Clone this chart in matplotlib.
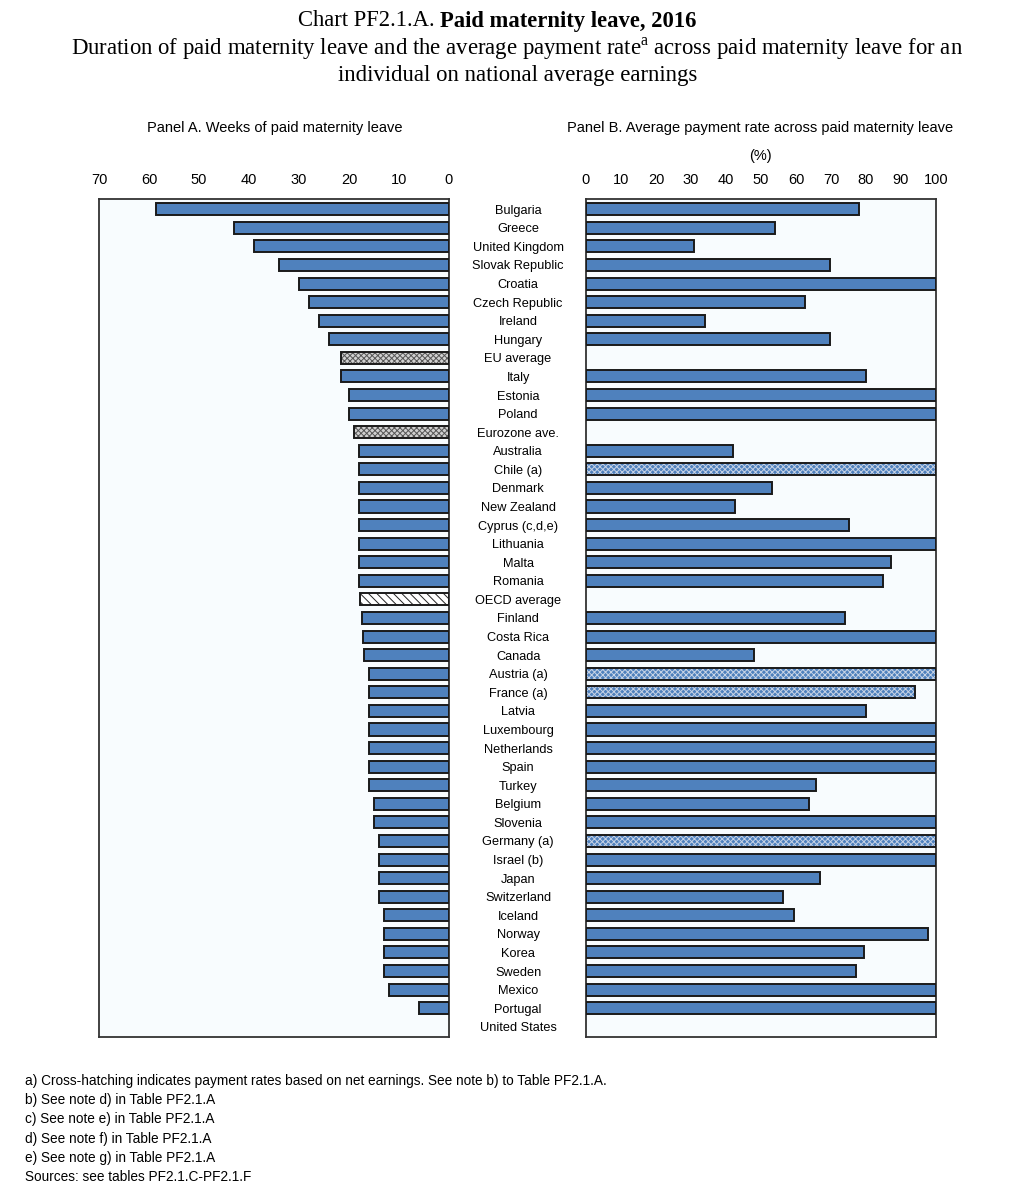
import numpy as np
import matplotlib
matplotlib.use("Agg")
from matplotlib import pyplot as plt

plt.rcParams['font.family'] = ['Liberation Sans', 'DejaVu Sans']
plt.rcParams['mathtext.fontset'] = 'custom'
plt.rcParams['mathtext.rm'] = 'Liberation Serif'
plt.rcParams['hatch.linewidth'] = 0.7

# data
countries = ["Bulgaria", "Greece", "United Kingdom", "Slovak Republic", "Croatia",
             "Czech Republic", "Ireland", "Hungary", "EU average", "Italy", "Estonia",
             "Poland", "Eurozone ave.", "Australia", "Chile (a)", "Denmark",
             "New Zealand", "Cyprus (c,d,e)", "Lithuania", "Malta", "Romania",
             "OECD average", "Finland", "Costa Rica", "Canada", "Austria (a)",
             "France (a)", "Latvia", "Luxembourg", "Netherlands", "Spain", "Turkey",
             "Belgium", "Slovenia", "Germany (a)", "Israel (b)", "Japan",
             "Switzerland", "Iceland", "Norway", "Korea", "Sweden", "Mexico",
             "Portugal", "United States"]
weeks = [58.6, 43, 39, 34, 30, 28, 26, 24, 21.7, 21.7, 20, 20, 19, 18, 18, 18,
         18, 18, 18, 18, 18, 17.7, 17.4, 17.1, 17, 16, 16, 16, 16, 16, 16, 16,
         15, 15, 14, 14, 14, 14, 13, 13, 13, 13, 12, 6, 0]
pay_rate = [78, 54, 30.8, 69.8, 100, 62.6, 34, 69.8, np.nan, 80, 100, 100, np.nan,
            42, 100, 53, 42.5, 75, 100, 87, 84.8, np.nan, 74, 100, 48, 100, 94,
            80, 100, 100, 100, 65.6, 63.8, 100, 100, 100, 66.9, 56.2, 59.3, 97.6,
            79.3, 77.1, 100, 100, np.nan]
eu_avgs = ["EU average", "Eurozone ave."]
oecd_avg = ["OECD average"]
net_based = ["Chile (a)", "Austria (a)", "France (a)", "Germany (a)"]

notes = ["a) Cross-hatching indicates payment rates based on net earnings. See note b) to Table PF2.1.A.",
         "b) See note d) in Table PF2.1.A",
         "c) See note e) in Table PF2.1.A",
         "d) See note f) in Table PF2.1.A",
         "e) See note g) in Table PF2.1.A",
         "Sources: see tables PF2.1.C-PF2.1.F"]

blue = '#4F81BD'
bg = '#F8FCFE'
bar_h = 0.65

fig = plt.figure(figsize=(10.1, 11.98), dpi=100)
W, H = 1010, 1198
ax_a = fig.add_axes([99 / W, (H - 1037) / H, 350 / W, 838 / H])
ax_b = fig.add_axes([586 / W, (H - 1037) / H, 350 / W, 838 / H])

y = np.arange(len(countries))


def hatched_bar(ax, yy, val, face, hatch, hcolor):
    ax.barh(yy, val, height=bar_h, color=face, hatch=hatch, edgecolor=hcolor,
            linewidth=0, zorder=2)
    ax.barh(yy, val, height=bar_h, fill=False, edgecolor='#1a1a1a',
            linewidth=1.4, zorder=3)


# Panel A
for i, c in enumerate(countries):
    if c in eu_avgs:
        hatched_bar(ax_a, y[i], weeks[i], '#d0d0d0', 'xxxxxx', '#555555')
    elif c in oecd_avg:
        hatched_bar(ax_a, y[i], weeks[i], 'white', '\\\\\\\\', '#222222')
    elif weeks[i] > 0:
        ax_a.barh(y[i], weeks[i], height=bar_h, color=blue, edgecolor='#1a1a1a',
                  linewidth=1.4, zorder=3)

# Panel B
for i, c in enumerate(countries):
    if np.isnan(pay_rate[i]):
        continue
    if c in net_based:
        hatched_bar(ax_b, y[i], pay_rate[i], blue, 'xxxxxx', '#c8d4e6')
    else:
        ax_b.barh(y[i], pay_rate[i], height=bar_h, color=blue, edgecolor='#1a1a1a',
                  linewidth=1.4, zorder=3)

ax_a.set_xlim(70, 0)
ax_a.set_xticks(np.arange(70, -1, -10))
ax_b.set_xlim(0, 100)
ax_b.set_xticks(np.arange(0, 101, 10))

for ax in (ax_a, ax_b):
    ax.set_ylim(len(countries) - 0.45, -0.55)
    ax.set_yticks([])
    ax.set_facecolor(bg)
    ax.xaxis.tick_top()
    ax.tick_params(axis='x', length=0, pad=9, labelsize=10.5)
    for s in ax.spines.values():
        s.set_color('#333333')
        s.set_linewidth(1.3)

# country labels in the middle
tr = ax_b.get_yaxis_transform()
for i, c in enumerate(countries):
    ax_b.text(-0.194, y[i] + 0.08, c, transform=tr, ha='center', va='center',
              fontsize=9.2)

# panel titles
fig.text(275 / W, 1 - 128 / H, "Panel A. Weeks of paid maternity leave",
         ha='center', va='center', fontsize=10.5)
fig.text(760 / W, 1 - 128 / H, "Panel B. Average payment rate across paid maternity leave",
         ha='center', va='center', fontsize=10.5)
fig.text(760 / W, 1 - 156 / H, "(%)", ha='center', va='center', fontsize=10.5)

# main title: normal + bold parts, centred together
renderer = fig.canvas.get_renderer()
t1 = fig.text(0, 1 - 21 / H, "Chart PF2.1.A. ", ha='left', va='center',
              fontsize=16.3, family='Liberation Serif')
t2 = fig.text(0, 1 - 21 / H, "Paid maternity leave, 2016", ha='left', va='center',
              fontsize=16.3, family='Liberation Serif', weight='bold')
w1 = t1.get_window_extent(renderer).width / (W)
w2 = t2.get_window_extent(renderer).width / (W)
x0 = 497 / W - (w1 + w2) / 2
t1.set_x(x0)
t2.set_x(x0 + w1)

fig.text(517 / W, 1 - 49 / H,
         "Duration of paid maternity leave and the average payment rate$^{\\mathrm{a}}$ across paid maternity leave for an",
         ha='center', va='center', fontsize=16.4, family='Liberation Serif')
fig.text(518 / W, 1 - 76 / H, "individual on national average earnings",
         ha='center', va='center', fontsize=16.4, family='Liberation Serif')

# footnotes
for k, n in enumerate(notes):
    fig.text(25 / W, 1 - (1081 + 19.2 * k) / H, n, ha='left', va='center',
             fontsize=9.8, family=['Liberation Sans Narrow', 'Liberation Sans'])

fig.savefig('out.png', dpi=100, facecolor='white')
